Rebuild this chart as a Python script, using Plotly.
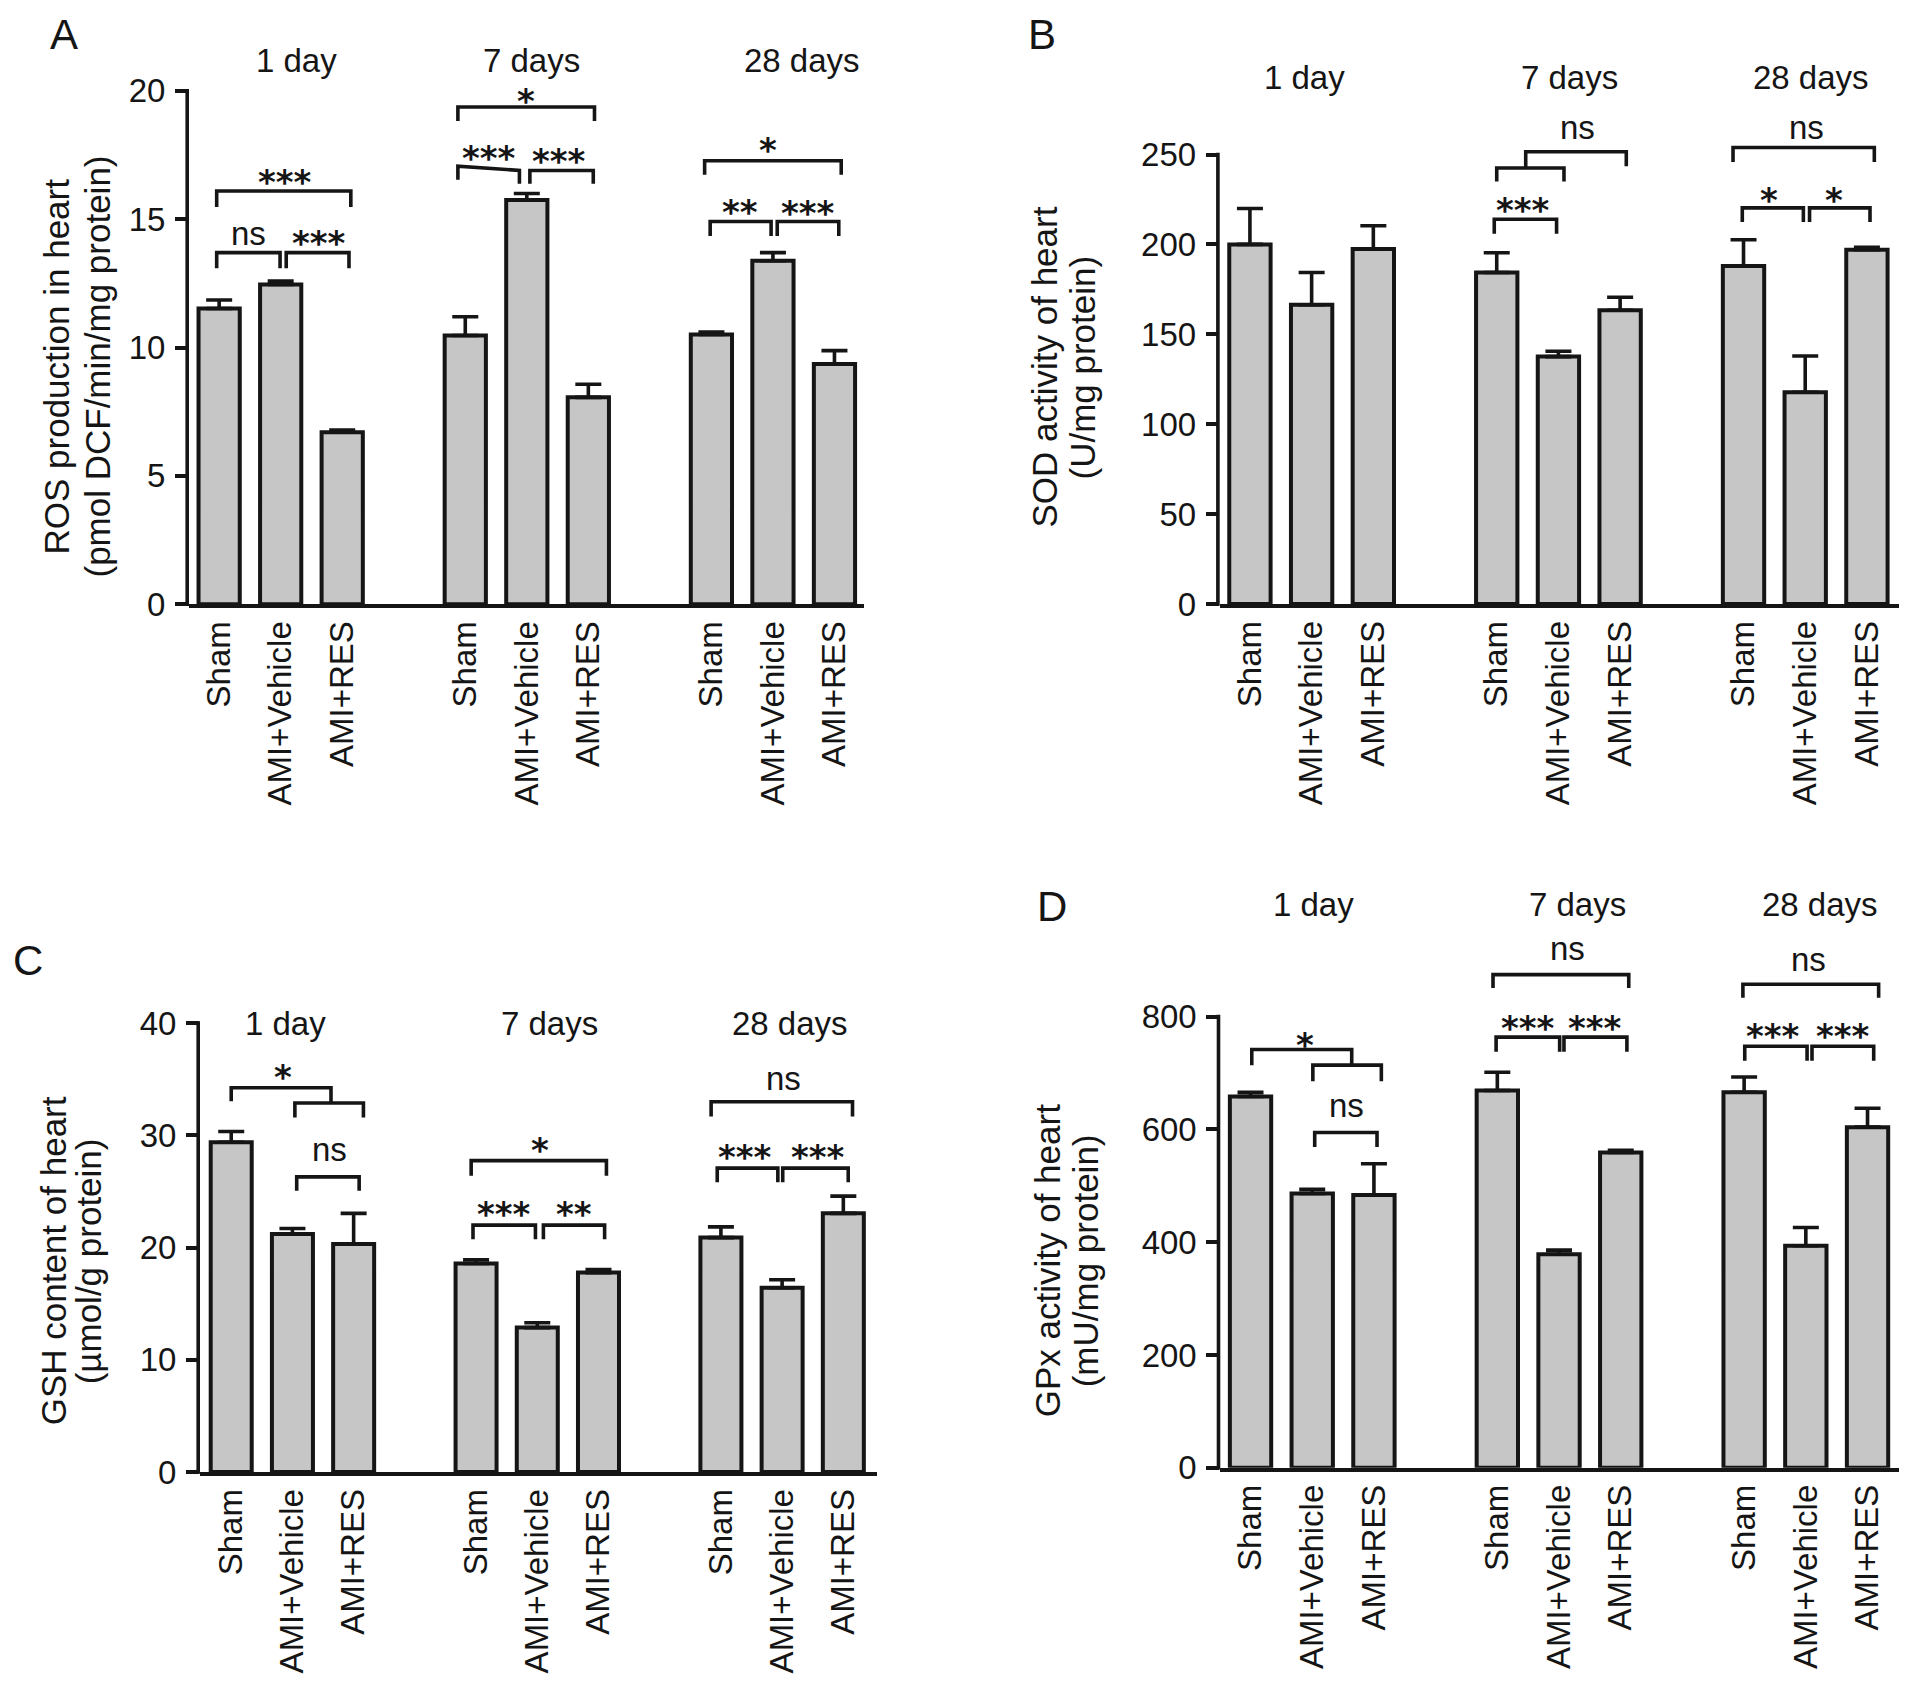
import plotly.graph_objects as go

W, H = 1913, 1692

# ---------------- data ----------------
groups = ["Sham", "AMI+Vehicle", "AMI+RES"] * 3
bar_pos = [0, 1, 2, 4, 5, 6, 8, 9, 10]
time_labels = ["1 day", "7 days", "28 days"]

ros_mean = [11.52, 12.46, 6.70, 10.47, 15.75, 8.06, 10.51, 13.38, 9.36]
ros_sem = [0.33, 0.13, 0.09, 0.73, 0.25, 0.51, 0.09, 0.32, 0.52]

sod_mean = [200.0, 166.4, 197.5, 184.4, 137.6, 163.4, 188.0, 117.8, 197.0]
sod_sem = [20.0, 18.0, 12.9, 11.0, 3.0, 7.2, 14.6, 20.1, 1.4]

gsh_mean = [29.39, 21.22, 20.31, 18.58, 12.87, 17.77, 20.89, 16.42, 23.05]
gsh_sem = [0.96, 0.48, 2.74, 0.34, 0.43, 0.28, 0.96, 0.72, 1.54]

gpx_mean = [658.6, 486.5, 483.6, 669.0, 378.5, 559.0, 666.0, 393.8, 604.0]
gpx_sem = [7.4, 7.5, 55.4, 32.5, 7.5, 4.0, 27.0, 32.2, 33.5]

# significance brackets: (x_left, x_right, top_left, top_right, leg_left, leg_right)
ros_brackets = [
    (-0.04, 0.99, 13.70, 13.70, 13.09, 13.09),
    (1.09, 2.11, 13.70, 13.70, 13.09, 13.09),
    (-0.04, 2.14, 16.10, 16.10, 15.48, 15.48),
    (3.88, 4.88, 17.07, 16.90, 16.54, 16.38),
    (5.05, 6.08, 16.90, 16.90, 16.38, 16.38),
    (3.88, 6.10, 19.37, 19.37, 18.83, 18.83),
    (7.98, 8.97, 14.91, 14.91, 14.35, 14.35),
    (9.07, 10.07, 14.91, 14.91, 14.35, 14.35),
    (7.89, 10.11, 17.28, 17.28, 16.73, 16.73),
]
ros_marks = [
    ("ns", 0.47, 14.35), ("***", 1.62, 14.43), ("***", 1.07, 16.80),
    ("***", 4.38, 17.74), ("***", 5.53, 17.63), ("*", 4.98, 19.94),
    ("**", 8.47, 15.64), ("***", 9.57, 15.60), ("*", 8.92, 18.05),
]

sod_brackets = [
    (3.96, 4.97, 214.0, 214.0, 205.9, 205.9),
    (4.00, 5.09, 242.5, 242.5, 235.0, 235.0),
    (4.47, 6.10, 251.5, 251.5, 242.5, 243.5),
    (7.83, 10.12, 253.9, 253.9, 245.8, 245.8),
    (7.98, 8.97, 220.3, 220.3, 212.5, 212.5),
    (9.07, 10.05, 220.3, 220.3, 212.5, 212.5),
]
sod_marks = [
    ("***", 4.42, 223.9), ("ns", 5.31, 263.8),
    ("ns", 9.02, 263.8), ("*", 8.42, 229.9), ("*", 9.46, 229.9),
]

gsh_brackets = [
    (0.00, 1.63, 34.24, 34.24, 33.04, 32.89),
    (1.04, 2.16, 32.89, 32.89, 31.60, 31.60),
    (1.07, 2.09, 26.30, 26.30, 25.07, 25.07),
    (3.92, 6.13, 27.75, 27.75, 26.41, 26.41),
    (3.95, 4.97, 22.00, 22.00, 20.74, 20.74),
    (5.10, 6.10, 22.00, 22.00, 20.74, 20.74),
    (7.84, 10.15, 32.99, 32.99, 31.69, 31.69),
    (7.94, 8.93, 27.08, 27.08, 25.83, 25.83),
    (9.01, 10.08, 27.08, 27.08, 25.83, 25.83),
]
gsh_marks = [
    ("*", 0.84, 36.0), ("ns", 1.61, 28.6), ("*", 5.05, 29.5),
    ("***", 4.45, 23.77), ("**", 5.60, 23.77),
    ("ns", 9.03, 34.9), ("***", 8.39, 28.9), ("***", 9.58, 28.9),
]

gpx_brackets = [
    (0.02, 1.64, 741.7, 741.7, 714.0, 714.0),
    (1.01, 2.12, 714.0, 714.0, 685.3, 685.3),
    (1.04, 2.05, 594.5, 594.5, 568.7, 568.7),
    (3.93, 6.13, 874.6, 874.6, 850.6, 850.6),
    (3.98, 5.01, 763.7, 763.7, 737.9, 737.9),
    (5.08, 6.10, 763.7, 763.7, 737.9, 737.9),
    (7.98, 10.18, 857.4, 857.4, 833.5, 833.5),
    (8.01, 9.02, 747.4, 747.4, 721.6, 721.6),
    (9.10, 10.10, 747.4, 747.4, 721.6, 721.6),
]
gpx_marks = [
    ("*", 0.88, 766.5), ("ns", 1.56, 639.4), ("ns", 5.13, 916.6),
    ("***", 4.50, 795.2), ("***", 5.59, 795.2),
    ("ns", 9.05, 898.5), ("***", 8.47, 780.9), ("***", 9.61, 780.9),
]

ros_ticks = [0, 5, 10, 15, 20]
sod_ticks = [0, 50, 100, 150, 200, 250]
gsh_ticks = [0, 10, 20, 30, 40]
gpx_ticks = [0, 200, 400, 600, 800]

# ---------------- layout of panels (pixel geometry) ----------------
panels = [
    dict(name="A", mean=ros_mean, sem=ros_sem, br=ros_brackets, mk=ros_marks, ticks=ros_ticks,
         title=["ROS production in heart", "(pmol DCF/min/mg protein)"],
         px=(189, 864), xr=(-0.49, 10.48), py0=603, pyt=89, rtop=21.5,
         letter=(64, 33), title_x=(57, 98), title_y=365,
         glab=[(296, 59), (531, 59), (802, 59)]),
    dict(name="B", mean=sod_mean, sem=sod_sem, br=sod_brackets, mk=sod_marks, ticks=sod_ticks,
         title=["SOD activity of heart", "(U/mg protein)"],
         px=(1219.7, 1899), xr=(-0.49, 10.52), py0=602.8, pyt=152.7, rtop=275,
         letter=(1041.5, 33), title_x=(1045, 1083), title_y=366,
         glab=[(1304, 75.5), (1569.5, 75.5), (1810.7, 75.5)]),
    dict(name="C", mean=gsh_mean, sem=gsh_sem, br=gsh_brackets, mk=gsh_marks, ticks=gsh_ticks,
         title=["GSH content of heart", "(µmol/g protein)"],
         px=(200, 877), xr=(-0.51, 10.55), py0=1472, pyt=1022.5, rtop=40.6,
         letter=(28, 960), title_x=(53, 88), title_y=1261,
         glab=[(285, 1022.5), (549, 1022.5), (790, 1022.5)]),
    dict(name="D", mean=gpx_mean, sem=gpx_sem, br=gpx_brackets, mk=gpx_marks, ticks=gpx_ticks,
         title=["GPx activity of heart", "(mU/mg protein)"],
         px=(1220.3, 1899), xr=(-0.49, 10.51), py0=1467.7, pyt=1016, rtop=940,
         letter=(1052, 906), title_x=(1047, 1085), title_y=1261,
         glab=[(1313, 904), (1577.5, 904), (1820, 904)]),
]

FONT = "Liberation Sans, Arial, Helvetica, sans-serif"
STAR_FONT = "DejaVu Sans, sans-serif"
INK = "#151515"
LW = 3.6

# the captured page shows a slight vertical offset / squeeze; compensate it
Y_OFF, Y_SQ = 10.0, 0.983

fig = go.Figure()
layout = dict(
    width=W, height=H, margin=dict(l=0, r=0, t=0, b=0),
    paper_bgcolor="white", plot_bgcolor="white", showlegend=False,
    font=dict(family=FONT, color=INK, size=33),
)
shapes, annotations = [], []

def px2x(p):
    return p / W

def py2y(p):
    return 1 - ((p - Y_OFF) / Y_SQ) / H

for i, p in enumerate(panels):
    k = "" if i == 0 else str(i + 1)
    xa, ya = "x" + k, "y" + k
    top_val = p["ticks"][-1]
    scale = (p["py0"] - p["pyt"]) / top_val
    py_top = p["py0"] - p["rtop"] * scale
    fig.add_trace(go.Bar(
        x=bar_pos, y=p["mean"], width=0.67, xaxis=xa, yaxis=ya,
        marker=dict(color="#c6c6c6", line=dict(color=INK, width=4)),
        error_y=dict(type="data", array=p["sem"], arrayminus=[0] * 9, symmetric=False,
                     thickness=LW, width=13, color=INK),
        hoverinfo="skip",
    ))
    layout["xaxis" + k] = dict(
        domain=[px2x(p["px"][0]), px2x(p["px"][1])], range=list(p["xr"]),
        anchor=ya, tickmode="array", tickvals=bar_pos, ticktext=groups,
        tickangle=-90, ticks="", showline=True, linewidth=LW, linecolor=INK,
        showgrid=False, zeroline=False, tickfont=dict(size=33, family=FONT, color=INK),
        ticklabelstandoff=0,
    )
    layout["yaxis" + k] = dict(
        domain=[py2y(p["py0"]), py2y(py_top)], range=[0, p["rtop"]],
        anchor=xa, tickmode="array", tickvals=p["ticks"],
        ticktext=[str(t) for t in p["ticks"]],
        ticks="outside", ticklen=13, tickwidth=LW, tickcolor=INK,
        showline=False, showgrid=False, zeroline=False,
        tickfont=dict(size=33, family=FONT, color=INK), ticklabelstandoff=3,
    )
    # y-axis line only up to top tick
    shapes.append(dict(type="line", xref="paper", yref="paper",
                       x0=px2x(p["px"][0] - LW / 2), x1=px2x(p["px"][0] - LW / 2),
                       y0=py2y(p["py0"] + LW / 2), y1=py2y(p["pyt"] - LW / 2),
                       line=dict(color=INK, width=LW)))
    # brackets
    for (x0, x1, t0, t1, l0, l1) in p["br"]:
        shapes.append(dict(type="path", xref=xa, yref=ya,
                           path=f"M {x0},{l0} L {x0},{t0} L {x1},{t1} L {x1},{l1}",
                           line=dict(color=INK, width=LW)))
    for (txt, x, y) in p["mk"]:
        star = "*" in txt
        annotations.append(dict(
            xref=xa, yref=ya, x=x, y=y, text=f"<b>{txt}</b>" if star else txt,
            showarrow=False, xanchor="center", yanchor="middle",
            yshift=-9 if star else 2,
            font=dict(family=STAR_FONT if star else FONT, size=34 if star else 33, color=INK)))
    # group labels
    for (lab, (gx, gy)) in zip(time_labels, p["glab"]):
        annotations.append(dict(xref="paper", yref="paper", x=px2x(gx), y=py2y(gy),
                                text=lab, showarrow=False, xanchor="center", yanchor="middle",
                                font=dict(size=33, family=FONT, color=INK)))
    # y title (two lines)
    for line_txt, tx in zip(p["title"], p["title_x"]):
        annotations.append(dict(xref="paper", yref="paper", x=px2x(tx),
                                y=py2y(p["title_y"]), text=line_txt, textangle=-90,
                                showarrow=False, xanchor="center", yanchor="middle",
                                font=dict(size=35, family=FONT, color=INK)))
    # panel letter
    annotations.append(dict(xref="paper", yref="paper", x=px2x(p["letter"][0]),
                            y=py2y(p["letter"][1]), text=p["name"], showarrow=False,
                            xanchor="center", yanchor="middle",
                            font=dict(size=42, family=FONT, color=INK)))

layout["shapes"] = shapes
layout["annotations"] = annotations
fig.update_layout(**layout)

page_js = (
    "var gd=document.getElementById('{plot_id}');"
    "gd.style.position='fixed';gd.style.top='0px';gd.style.left='0px';"
    "document.documentElement.style.margin='0';document.body.style.margin='0';"
    "document.documentElement.style.overflow='hidden';document.body.style.overflow='hidden';"
)
fig.write_html("out.html", config={"displayModeBar": False}, post_script=page_js)
